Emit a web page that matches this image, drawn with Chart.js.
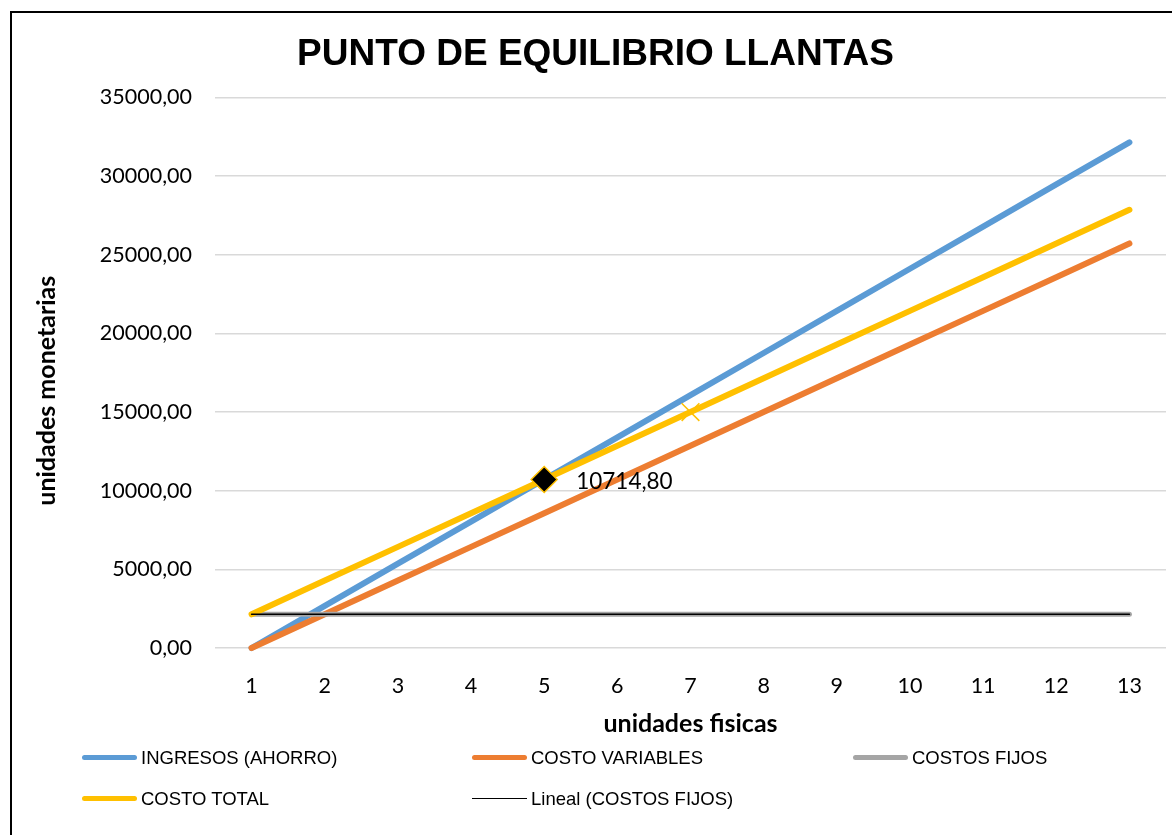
<!DOCTYPE html>
<html>
<head>
<meta charset="utf-8">
<title>Punto de equilibrio llantas</title>
<script src="https://cdn.jsdelivr.net/npm/chart.js@4.4.1/dist/chart.umd.min.js"></script>
<style>
  body { margin: 0; background: #fff; }
  #wrap { position: relative; width: 1172px; height: 835px; overflow: hidden; background: #fff; }
  #frame { position: absolute; left: 10px; top: 11px; width: 1300px; height: 1000px;
           border-top: 2px solid #000; border-left: 2px solid #000; pointer-events: none; }
  #chart { position: absolute; left: 0; top: 0; }
  #legend { position: absolute; left: 82px; top: 737px; display: grid;
            grid-template-columns: 390px 381px auto; grid-auto-rows: 41px;
            font: 18.5px "Liberation Sans", Arial, sans-serif; color: #000; }
  .item { display: flex; align-items: center; white-space: nowrap; }
  .swatch { width: 55px; margin-right: 4px; border-radius: 3px; }
</style>
</head>
<body>
<div id="wrap">
  <canvas id="chart" width="1172" height="835"></canvas>
  <div id="frame"></div>
  <div id="legend"></div>
</div>
<script>
// unidades fisicas
const unidades = ['1', '2', '3', '4', '5', '6', '7', '8', '9', '10', '11', '12', '13'];

const ingresos = [0, 2678.70, 5357.40, 8036.10, 10714.80, 13393.50, 16072.20,
  18750.90, 21429.60, 24108.30, 26787.00, 29465.70, 32144.40];
const costoVariable = [0, 2142.96, 4285.92, 6428.88, 8571.84, 10714.80, 12857.76,
  15000.72, 17143.68, 19286.64, 21429.60, 23572.56, 25715.52];
const costosFijos = [2142.96, 2142.96, 2142.96, 2142.96, 2142.96, 2142.96, 2142.96,
  2142.96, 2142.96, 2142.96, 2142.96, 2142.96, 2142.96];
const costoTotal = [2142.96, 4285.92, 6428.88, 8571.84, 10714.80, 12857.76, 15000.72,
  17143.68, 19286.64, 21429.60, 23572.56, 25715.52, 27858.48];

const nombres = ['INGRESOS (AHORRO)', 'COSTO VARIABLES', 'COSTOS FIJOS', 'COSTO TOTAL', 'Lineal (COSTOS FIJOS)'];
const colores = ['#5B9BD5', '#ED7D31', '#A5A5A5', '#FFC000', '#000000'];

const puntoEquilibrio = 4;   // index of the break-even point (x = 5)
const marcaTotal = 6;        // extra marker on the total cost line (x = 7)

const yMin = 0, yMax = 35000, yStep = 5000;
const tituloY = 'unidades monetarias';

function fmt(v) {
  return v.toFixed(2).replace('.', ',');
}

// label next to the break-even diamond + vertical axis title
const etiquetas = {
  id: 'etiquetas',
  afterDatasetsDraw(chart) {
    const meta = chart.getDatasetMeta(3);
    const pt = meta.data[puntoEquilibrio];
    const ctx = chart.ctx;
    ctx.save();
    ctx.font = '22.5px Lato, "Open Sans", sans-serif';
    ctx.fillStyle = '#000';
    ctx.textAlign = 'left';
    ctx.textBaseline = 'middle';
    ctx.fillText(fmt(costoTotal[puntoEquilibrio]), pt.x + 32, pt.y + 2);

    // Excel puts the y title a bit below the plot's middle
    const a = chart.chartArea;
    ctx.translate(47, (a.top + a.bottom) / 2 + 18);
    ctx.rotate(-Math.PI / 2);
    ctx.textAlign = 'center';
    ctx.font = 'bold 25px Lato, sans-serif';
    ctx.fillText(tituloY, 0, 0);
    ctx.restore();
  }
};

const lineBase = { fill: false, tension: 0, borderCapStyle: 'round', borderJoinStyle: 'round', pointRadius: 0, clip: false };

const chart = new Chart(document.getElementById('chart'), {
  type: 'line',
  data: {
    labels: unidades,
    datasets: [
      { ...lineBase, label: nombres[0], data: ingresos, borderColor: colores[0], borderWidth: 6, order: 4 },
      { ...lineBase, label: nombres[1], data: costoVariable, borderColor: colores[1], borderWidth: 6, order: 3 },
      { ...lineBase, label: nombres[2], data: costosFijos, borderColor: colores[2], borderWidth: 5, order: 2 },
      {
        ...lineBase, label: nombres[3], data: costoTotal, borderColor: colores[3], borderWidth: 6, order: 1,
        pointStyle: c => c.dataIndex === puntoEquilibrio ? 'rectRot' : 'crossRot',
        pointRadius: c => c.dataIndex === puntoEquilibrio ? 13 : (c.dataIndex === marcaTotal ? 12.5 : 0),
        pointBackgroundColor: c => c.dataIndex === puntoEquilibrio ? '#000' : colores[3],
        pointBorderColor: colores[3],
        pointBorderWidth: 1.5
      },
      { ...lineBase, label: nombres[4], data: costosFijos, borderColor: colores[4], borderWidth: 1.5, order: 0 }
    ]
  },
  options: {
    responsive: false,
    animation: false,
    layout: { padding: { left: 25, right: 6, top: 0, bottom: 95 } },
    plugins: {
      legend: { display: false },
      tooltip: { enabled: false },
      title: {
        display: true,
        text: 'PUNTO DE EQUILIBRIO LLANTAS',
        color: '#000',
        font: { family: '"Liberation Sans", Arial, sans-serif', size: 37, weight: 'bold', lineHeight: 1.2 },
        padding: { top: 33, bottom: 20 }
      }
    },
    scales: {
      x: {
        offset: true,
        grid: { display: false },
        border: { display: false },
        ticks: { color: '#000', padding: 17, font: { family: 'Lato, sans-serif', size: 21.5 } },
        title: {
          display: true, text: 'unidades fisicas', color: '#000',
          font: { family: 'Lato, sans-serif', size: 25, weight: 'bold', lineHeight: 1.2 },
          padding: { top: 8, bottom: 1 }
        },
        afterFit: s => { s.height = 92; }
      },
      y: {
        min: yMin, max: yMax,
        grid: { color: '#D9D9D9', lineWidth: 1.5, drawTicks: false },
        border: { display: false },
        ticks: { stepSize: yStep, color: '#000', padding: 23, callback: v => fmt(v),
                 font: { family: 'Lato, sans-serif', size: 21.5 } },
        afterFit: s => { s.width = 190; }
      }
    }
  },
  plugins: [etiquetas]
});

// legend laid out in Excel's grid: three columns, two rows
const legend = document.getElementById('legend');
chart.data.datasets.forEach((ds, i) => {
  const item = document.createElement('div');
  item.className = 'item';
  const sw = document.createElement('span');
  sw.className = 'swatch';
  const h = i === 4 ? 1.5 : 5;
  sw.style.height = h + 'px';
  sw.style.background = ds.borderColor;
  if (i === 4) sw.style.borderRadius = '0';
  const txt = document.createElement('span');
  txt.textContent = ds.label;
  item.appendChild(sw);
  item.appendChild(txt);
  legend.appendChild(item);
});
</script>
</body>
</html>
